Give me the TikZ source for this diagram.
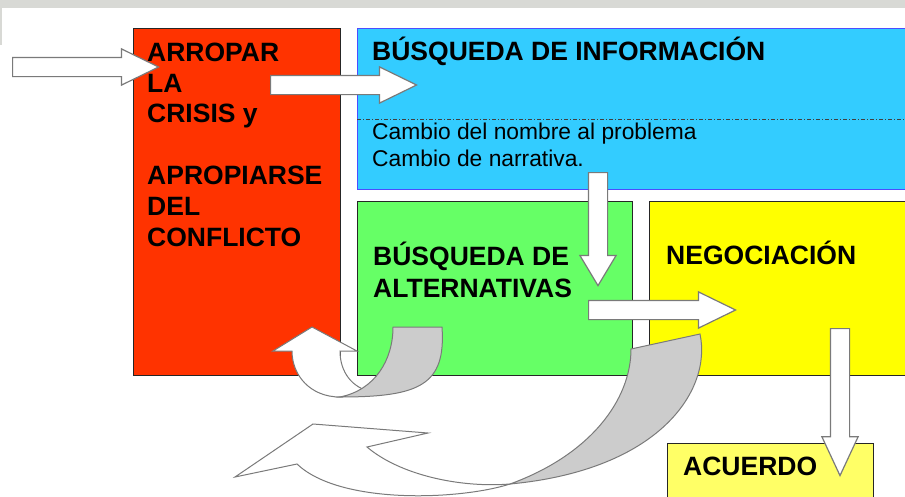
\documentclass[tikz,border=0pt]{standalone}
\usepackage{fontspec}
\setmainfont{Liberation Sans}
\usetikzlibrary{positioning,shapes.arrows}
\definecolor{crisisred}{HTML}{FF3300}
\definecolor{infoblue}{HTML}{33CCFF}
\definecolor{altgreen}{HTML}{66FF66}
\definecolor{negyellow}{HTML}{FFFF00}
\definecolor{acuyellow}{HTML}{FFFF66}
\definecolor{ribbon}{HTML}{CCCCCC}
\definecolor{outline}{HTML}{7A7A7A}
\definecolor{topband}{HTML}{D8D9D5}
\tikzset{box/.style={draw=black!85,line width=0.9pt,anchor=north west,inner sep=0pt},
         title/.style={font=\fontsize{26.5}{30.8}\selectfont\bfseries,anchor=base west,inner sep=0pt,align=left},
         note/.style={font=\fontsize{22.8}{26.5}\selectfont,anchor=base west,inner sep=0pt,align=left},
         blockarrow/.style={single arrow,draw=outline,fill=white,line width=1.2pt,inner sep=9pt,
                            single arrow head extend=8.5pt,single arrow tip angle=52,anchor=tail},
         fold/.style={draw=outline,line width=1pt,fill=ribbon},
         turn/.style={draw=outline,line width=1pt,fill=white}
}
\begin{document}
\begin{tikzpicture}[x=1pt,y=-1pt]
\useasboundingbox (0,0) rectangle (905,496);
\clip (0,0) rectangle (905,496);
\fill[topband] (0,0) rectangle (905,8);
\fill[topband] (0,8) rectangle (2,45);

\node[box,fill=crisisred,minimum width=207pt,minimum height=347pt] (crisis) at (133,28) {};
\node[box,draw=blue!70,fill=infoblue,minimum width=560pt,minimum height=161pt] (info) at (357,28) {};
\node[box,fill=altgreen,minimum width=275pt,minimum height=174pt] (alternativas) at (357,201) {};
\node[box,fill=negyellow,minimum width=270pt,minimum height=174pt] (negociacion) at (649,201) {};
\node[box,fill=acuyellow,minimum width=206pt,minimum height=70pt] (acuerdo) at (667,443) {};
\coordinate (split) at (0,119);
\draw[black!75,line width=0.6pt,dash pattern=on 4pt off 2pt on 1pt off 2pt] (info.west |- split) -- (info.east |- split);

\node[title] (crisistext) at (147,246) {ARROPAR\\LA\\CRISIS y\\[30.8pt]APROPIARSE\\DEL\\CONFLICTO};
\node[title] (infotext) at (372,60) {BÚSQUEDA DE INFORMACIÓN};
\node[note] (infonote) at (372,166) {Cambio del nombre al problema\\Cambio de narrativa.};
\node[title,font=\fontsize{26.5}{32}\selectfont\bfseries] (alttext) at (373,297) {BÚSQUEDA DE\\ALTERNATIVAS};
\node[title] (negtext) at (666,264) {NEGOCIACIÓN};
\node[title] (acutext) at (683,475) {ACUERDO};

\node[blockarrow,minimum height=146pt] (arrin) at (12,67) {};
\node[blockarrow,minimum height=146pt] (arrinfo) at (270,85) {};
\node[blockarrow,rotate=-90,minimum height=113pt,single arrow tip angle=62] (arrdown) at (598,172) {};
\node[blockarrow,minimum height=147pt] (arrneg) at (588,310) {};
\node[blockarrow,rotate=-90,minimum height=147pt,single arrow tip angle=50] (arracu) at (840,328) {};

\draw[turn] (340,397) .. controls (310,397) and (292,375) .. (292,351) -- (273,351) -- (312,327) -- (357,351) -- (340,351)
  .. controls (340,372) and (352,388) .. (372,392) -- cycle;
\draw[fold] (393,327) -- (442,327) .. controls (446,385) and (420,397) .. (340,397) .. controls (375,390) and (393,360) .. (393,327) -- cycle;

\draw[turn] (510,484) .. controls (460,500) and (340,505) .. (297,464) -- (235,477) -- (313,424) -- (428,433) -- (367,447)
  .. controls (400,475) and (460,488) .. (510,484) -- cycle;
\draw[fold] (631,349) -- (700,334) .. controls (712,390) and (660,470) .. (510,484) .. controls (590,455) and (631,400) .. (631,349) -- cycle;
\end{tikzpicture}
\end{document}
